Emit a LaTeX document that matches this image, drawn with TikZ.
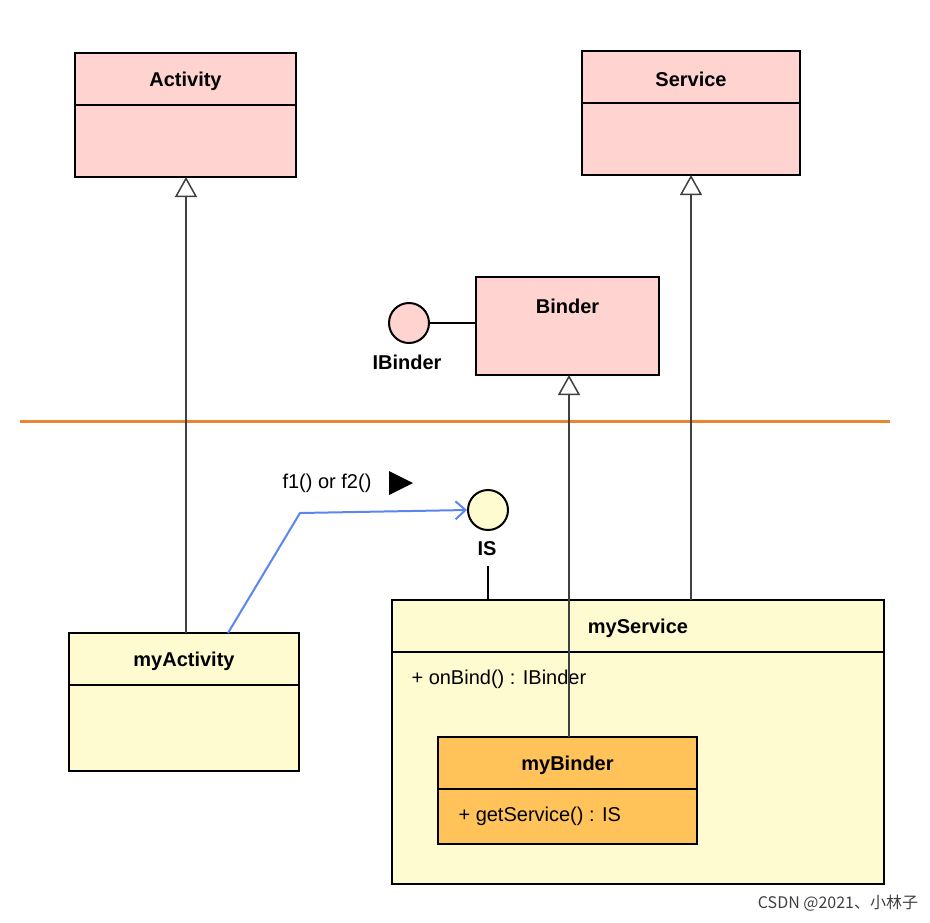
\documentclass[tikz,border=0pt]{standalone}
\usepackage{fontspec}
\setmainfont{Liberation Sans}
\newfontfamily\cjk{Noto Sans CJK SC}
\usetikzlibrary{arrows.meta}
\definecolor{pinkf}{HTML}{FFD3CF}
\definecolor{yelf}{HTML}{FFFBD0}
\definecolor{orgf}{HTML}{FFC35A}
\definecolor{orgl}{HTML}{E8872F}
\definecolor{bluel}{HTML}{5B86F0}
\begin{document}
\begin{tikzpicture}[x=1pt,y=-1pt,
  cls/.style={draw=black,line width=2.2pt},
  ttl/.style={font=\bfseries\fontsize{20}{24}\selectfont},
  txt/.style={font=\fontsize{20}{24}\selectfont,anchor=west},
  inh/.style={draw=black!75,line width=1.5pt,-{Triangle[open,fill=white,length=20pt,width=22pt]}},
  ifc/.style={draw=black,line width=2pt,circle,minimum size=40pt,inner sep=0pt}]
\useasboundingbox (0,0) rectangle (930,922);
% classes
\node[cls,fill=pinkf,minimum width=221pt,minimum height=124pt,inner sep=0pt] (act) at (185.5,115) {};
\draw[line width=1.5pt] (75,105) -- (296,105);
\node[ttl] (actt) at (185.5,81) {Activity};
\node[cls,fill=pinkf,minimum width=218pt,minimum height=124pt,inner sep=0pt] (srv) at (691,113) {};
\draw[line width=1.5pt] (582,103) -- (800,103);
\node[ttl] (srvt) at (691,79) {Service};
\node[cls,fill=pinkf,minimum width=183pt,minimum height=98pt,inner sep=0pt] (bnd) at (567.5,326) {};
\node[ttl] (bndt) at (567.5,306) {Binder};
\node[ifc,fill=pinkf] (ib) at (409,323) {};
\node[ttl] (ibt) at (407,362) {IBinder};
\draw[line width=1.5pt] (ib) -- (bnd.west|-ib);
% separator
\draw[orgl,line width=3pt] (20,421) coordinate (s1) -- (890,421) coordinate (s2);
% myActivity
\node[cls,fill=yelf,minimum width=230pt,minimum height=138pt,inner sep=0pt] (ma) at (184,702) {};
\draw[line width=1.5pt] (69,685) -- (299,685);
\node[ttl] (mat) at (184,661) {myActivity};
% myService
\node[cls,fill=yelf,minimum width=492pt,minimum height=284pt,inner sep=0pt] (ms) at (638,742) {};
\draw[line width=1.5pt] (392,652) -- (884,652);
\node[ttl] (mst) at (638,628) {myService};
\node[txt] (msop) at (408,679) {+ onBind() : IBinder};
% myBinder
\node[cls,fill=orgf,minimum width=259pt,minimum height=107pt,inner sep=0pt] (mb) at (567.5,790.5) {};
\draw[line width=1.5pt] (438,789) -- (697,789);
\node[ttl] (mbt) at (567.5,765) {myBinder};
\node[txt] (mbop) at (455,816) {+ getService() : IS};
% IS
\node[ifc,fill=yelf] (is) at (488,510) {};
\node[ttl] (ist) at (487,549) {IS};
\coordinate (isl) at (488,566);
\draw[line width=1.5pt] (isl) -- (488,600);
% inheritance
\draw[inh] (186,633) -- (186,177);
\draw[inh] (691,600) -- (691,175);
\draw[inh] (569,737) -- (569,375);
% call
\coordinate (c1) at (228,633);
\draw[bluel,line width=2pt,-{Straight Barb[length=10pt,width=18pt]}] (c1) -- (300,513) -- (is.west);
\node[font=\fontsize{20}{24}\selectfont] (lab) at (327,483) {f1() or f2()};
\fill (389,471) -- (413,483) -- (389,495) -- cycle;
\node[font=\cjk\fontsize{16}{19}\selectfont,text=black!75] (wm) at (838,903) {CSDN @2021、小林子};
\end{tikzpicture}
\end{document}
